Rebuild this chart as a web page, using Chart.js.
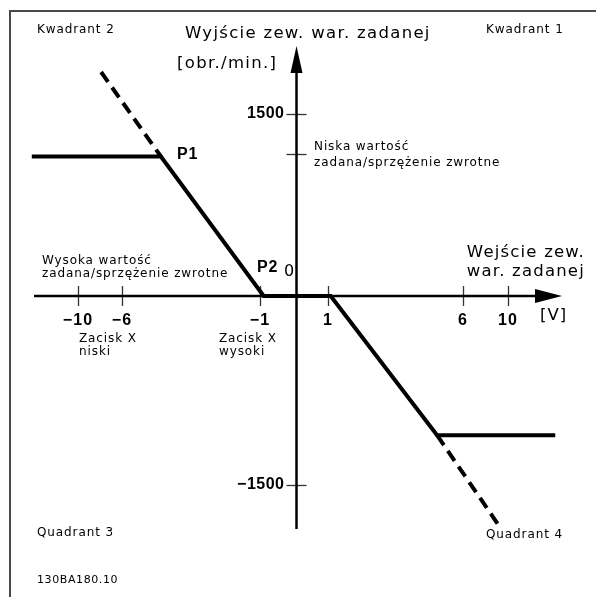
<!DOCTYPE html>
<html>
<head>
<meta charset="utf-8">
<script src="https://cdn.jsdelivr.net/npm/chart.js@4.4.1/dist/chart.umd.min.js"></script>
<style>
  html, body { margin: 0; padding: 0; background: #fff; }
  #c { display: block; }
</style>
</head>
<body>
<canvas id="c" width="596" height="597"></canvas>
<script>
// ---------------- data ----------------
const xTickValues = [-10, -6, -1, 1, 6, 10];
const xTickLabels = ['\u221210', '\u22126', '\u22121', '1', '6', '10'];
const yTickValues = [1500, 1170, -1500];
const yTickLabels = ['1500', '', '\u22121500'];

// main characteristic (solid)
const curveX = [-14.2, -4.59, -0.9, 1.1, 5.04, 14.2];
const curveY = [1150, 1150, 0, 0, -1105, -1105];
// extensions (dashed)
const upperDashX = [-7.9, -4.59];
const upperDashY = [1846, 1150];
const lowerDashX = [5.04, 9.1];
const lowerDashY = [-1105, -1810];

// axis extents (data units)
const xAxisRange = [-14.0, 14.8];
const yAxisRange = [-1850, 2060];

// ---------------- layout (schematic, non-uniform axes) ----------------
const REF_W = 596, REF_H = 597;
const ANCHORS = {
  x: [[-10, 78], [-6, 122], [-1, 260], [0, 296.5], [1, 328], [6, 463], [10, 508]],
  y: [[-1500, 485], [0, 296], [1500, 114]]
};

function interp(a, v) {
  let i = 0;
  if (v <= a[0][0]) i = 0;
  else if (v >= a[a.length - 1][0]) i = a.length - 2;
  else { while (i < a.length - 2 && v > a[i + 1][0]) i++; }
  const [v0, p0] = a[i], [v1, p1] = a[i + 1];
  return p0 + (v - v0) * (p1 - p0) / (v1 - v0);
}
function invInterp(a, p) {
  const b = a.map(([v, q]) => [q, v]).sort((m, n) => m[0] - n[0]);
  return interp(b, p);
}

class PiecewiseScale extends Chart.LinearScale {
  getPixelForValue(value) {
    const a = ANCHORS[this.axis];
    const ref = interp(a, value);
    if (this.isHorizontal()) return this.left + ref * (this.width / REF_W);
    return this.top + ref * (this.height / REF_H);
  }
  getValueForPixel(pixel) {
    const a = ANCHORS[this.axis];
    const ref = this.isHorizontal() ? (pixel - this.left) * REF_W / this.width
                                    : (pixel - this.top) * REF_H / this.height;
    return invInterp(a, ref);
  }
}
PiecewiseScale.id = 'piecewise';
PiecewiseScale.defaults = Chart.LinearScale.defaults;
Chart.register(PiecewiseScale);

const toPts = (xs, ys) => xs.map((x, i) => ({ x, y: ys[i] }));

const SANS = '"DejaVu Sans", Verdana, sans-serif';
const BOLD = '"Liberation Sans", Arial, sans-serif';

const texts = [
  { t: 'Kwadrant 2', x: 37, y: 30, f: '12px ' + SANS, ls: 0.9 },
  { t: 'Kwadrant 1', x: 486, y: 30, f: '12px ' + SANS, ls: 0.9 },
  { t: 'Quadrant 3', x: 37, y: 533, f: '12px ' + SANS, ls: 0.9 },
  { t: 'Quadrant 4', x: 486, y: 535, f: '12px ' + SANS, ls: 0.9 },
  { t: '130BA180.10', x: 37, y: 580, f: '11px ' + SANS, ls: 0.6 },
  { t: 'Wyjście zew. war. zadanej', x: 185, y: 34, f: '16.5px ' + SANS, ls: 1.3 },
  { t: '[obr./min.]', x: 177, y: 64, f: '16.5px ' + SANS, ls: 1.3 },
  { t: 'Niska wartość', x: 314, y: 147, f: '12px ' + SANS, ls: 0.9 },
  { t: 'zadana/sprzężenie zwrotne', x: 314, y: 163, f: '12px ' + SANS, ls: 0.9 },
  { t: 'Wysoka wartość', x: 42, y: 261, f: '12px ' + SANS, ls: 0.9 },
  { t: 'zadana/sprzężenie zwrotne', x: 42, y: 274, f: '12px ' + SANS, ls: 0.9 },
  { t: 'Zacisk X', x: 79, y: 339, f: '12px ' + SANS, ls: 0.9 },
  { t: 'niski', x: 79, y: 352, f: '12px ' + SANS, ls: 0.9 },
  { t: 'Zacisk X', x: 219, y: 339, f: '12px ' + SANS, ls: 0.9 },
  { t: 'wysoki', x: 219, y: 352, f: '12px ' + SANS, ls: 0.9 },
  { t: 'Wejście zew.', x: 585, y: 253, f: '16.5px ' + SANS, ls: 1.2, a: 'right' },
  { t: 'war. zadanej', x: 585, y: 272, f: '16.5px ' + SANS, ls: 1.2, a: 'right' },
  { t: '[V]', x: 540, y: 316, f: '16.5px ' + SANS, ls: 1 },
  { t: '0', x: 289, y: 272, f: '16px ' + SANS, ls: 0, a: 'center' },
  { t: 'P1', x: 177, y: 155, f: 'bold 16px ' + BOLD, ls: 0.8 },
  { t: 'P2', x: 257, y: 268, f: 'bold 16px ' + BOLD, ls: 0.8 }
];

const diagram = {
  id: 'diagram',
  beforeDatasetsDraw(chart) {
    const ctx = chart.ctx, xs = chart.scales.x, ys = chart.scales.y;
    const x0 = xs.getPixelForValue(0), y0 = ys.getPixelForValue(0);
    ctx.save();
    // frame
    ctx.strokeStyle = '#4a4a4a';
    ctx.lineWidth = 2;
    ctx.strokeRect(10, 11, 700, 700);

    // ticks
    ctx.strokeStyle = '#333';
    ctx.lineWidth = 1.3;
    xTickValues.forEach(v => {
      const px = Math.round(xs.getPixelForValue(v)) + 0.5;
      ctx.beginPath(); ctx.moveTo(px, y0 - 10); ctx.lineTo(px, y0 + 10); ctx.stroke();
    });
    yTickValues.forEach(v => {
      const py = Math.round(ys.getPixelForValue(v)) + 0.5;
      ctx.beginPath(); ctx.moveTo(x0 - 10, py); ctx.lineTo(x0 + 10, py); ctx.stroke();
    });

    // axes
    ctx.strokeStyle = '#000';
    ctx.fillStyle = '#000';
    ctx.lineWidth = 2.5;
    const xa = xs.getPixelForValue(xAxisRange[0]), xb = xs.getPixelForValue(xAxisRange[1]);
    const ya = ys.getPixelForValue(yAxisRange[0]), yb = ys.getPixelForValue(yAxisRange[1]);
    ctx.beginPath(); ctx.moveTo(xa, y0); ctx.lineTo(xb - 24, y0); ctx.stroke();
    ctx.beginPath(); ctx.moveTo(x0, ya); ctx.lineTo(x0, yb + 24); ctx.stroke();
    // arrow heads
    ctx.beginPath(); ctx.moveTo(xb, y0); ctx.lineTo(xb - 27, y0 - 7); ctx.lineTo(xb - 27, y0 + 7); ctx.closePath(); ctx.fill();
    ctx.beginPath(); ctx.moveTo(x0, yb); ctx.lineTo(x0 - 6, yb + 27); ctx.lineTo(x0 + 6, yb + 27); ctx.closePath(); ctx.fill();
    ctx.restore();
  },
  afterDatasetsDraw(chart) {
    const ctx = chart.ctx, xs = chart.scales.x, ys = chart.scales.y;
    const x0 = xs.getPixelForValue(0), y0 = ys.getPixelForValue(0);
    ctx.save();
    ctx.fillStyle = '#000';
    ctx.textBaseline = 'middle';
    // tick labels
    ctx.font = 'bold 16px ' + BOLD;
    ctx.textAlign = 'center';
    ctx.letterSpacing = '1.2px';
    xTickValues.forEach((v, i) => {
      ctx.fillText(xTickLabels[i], xs.getPixelForValue(v), y0 + 25);
    });
    ctx.font = 'bold 16px ' + BOLD;
    ctx.textAlign = 'right';
    ctx.letterSpacing = '0.5px';
    yTickValues.forEach((v, i) => {
      if (yTickLabels[i]) ctx.fillText(yTickLabels[i], x0 - 12, ys.getPixelForValue(v));
    });
    // annotations
    texts.forEach(o => {
      ctx.font = o.f;
      ctx.letterSpacing = (o.ls || 0) + 'px';
      ctx.textAlign = o.a || 'left';
      ctx.fillText(o.t, o.x, o.y);
    });
    ctx.restore();
  }
};

new Chart(document.getElementById('c'), {
  type: 'scatter',
  data: {
    datasets: [
      { data: toPts(curveX, curveY), showLine: true, borderColor: '#000', borderWidth: 4,
        pointRadius: 0, borderJoinStyle: 'miter', borderCapStyle: 'butt', tension: 0 },
      { data: toPts(upperDashX, upperDashY), showLine: true, borderColor: '#000', borderWidth: 4,
        pointRadius: 0, borderDash: [12, 7], borderCapStyle: 'butt' },
      { data: toPts(lowerDashX, lowerDashY), showLine: true, borderColor: '#000', borderWidth: 4,
        pointRadius: 0, borderDash: [12, 7], borderCapStyle: 'butt' }
    ]
  },
  options: {
    responsive: false,
    devicePixelRatio: 1,
    animation: false,
    layout: { padding: 0 },
    plugins: { legend: { display: false }, tooltip: { enabled: false }, title: { display: false } },
    scales: {
      x: { type: 'piecewise', display: false, min: -15, max: 15 },
      y: { type: 'piecewise', display: false, min: -2000, max: 2100 }
    }
  },
  plugins: [diagram]
});
</script>
</body>
</html>
